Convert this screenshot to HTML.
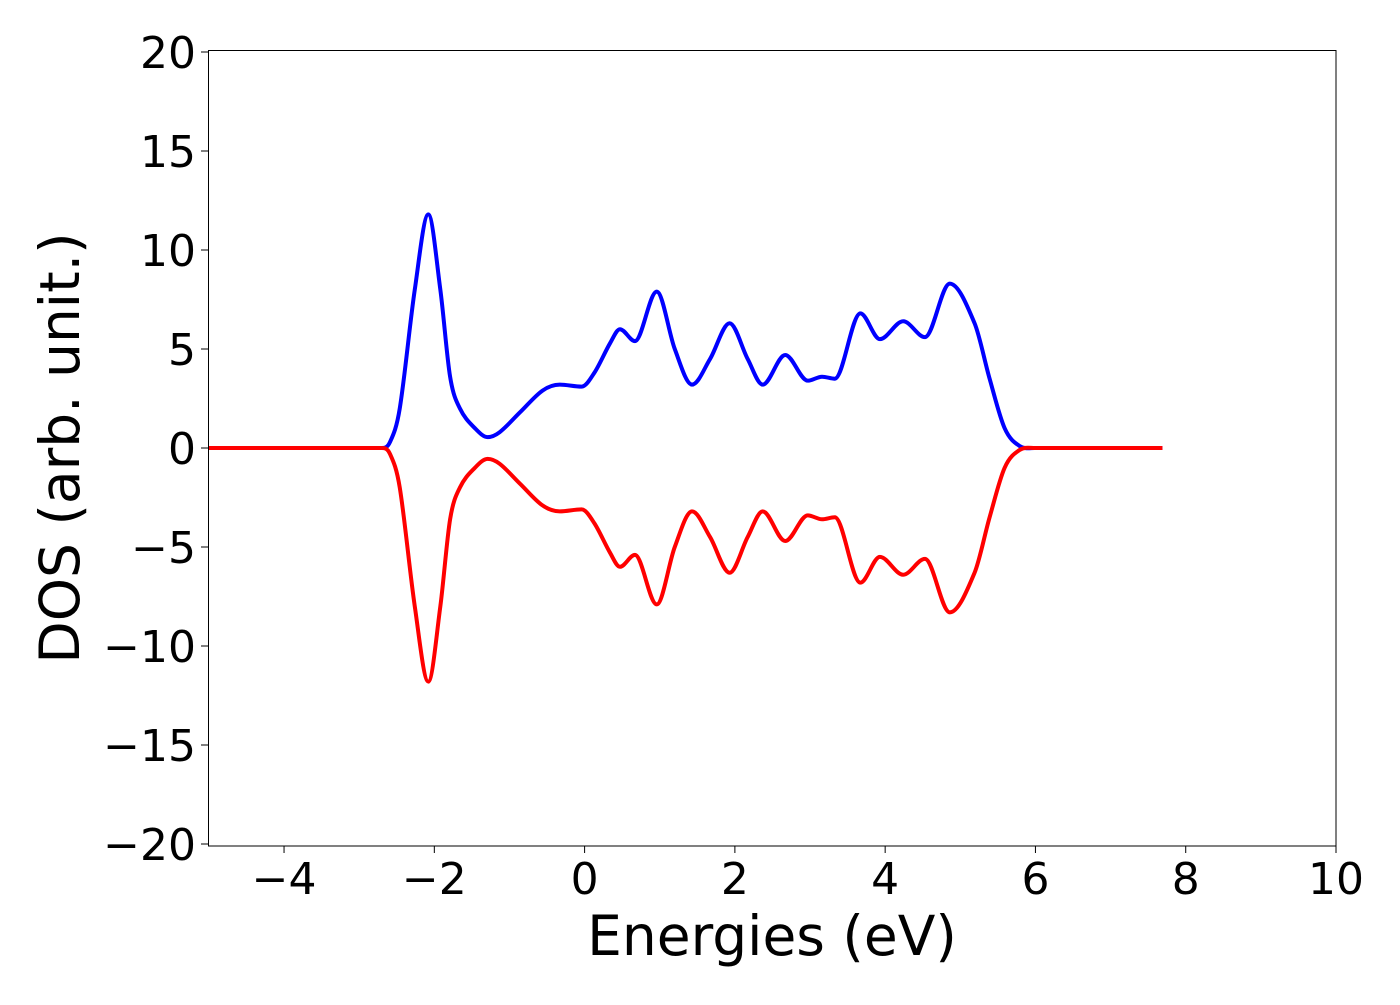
<!DOCTYPE html>
<html><head><meta charset="utf-8"><style>
body{margin:0;background:#fff}
svg text{font-family:"DejaVu Sans","Liberation Sans",sans-serif;fill:#000}
</style></head><body>
<svg width="1400" height="1000">
<rect x="0" y="0" width="1400" height="1000" fill="#fff"/>
<g id="plot"></g>
<rect x="208.5" y="50.5" width="1127.5" height="795.5" fill="none" stroke="#000" stroke-width="1"/>
<g id="ticks"></g>
<text x="772" y="955" font-size="55" text-anchor="middle">Energies (eV)</text>
<text transform="translate(79,448) rotate(-90)" font-size="55" text-anchor="middle">DOS (arb. unit.)</text>
</svg>
<script>
const energies=[-5,-2.7,-2.59,-2.46,-2.26,-2.08,-1.92,-1.79,-1.66,-1.46,-1.29,-1.13,-0.86,-0.56,-0.33,-0.04,0.13,0.34,0.47,0.67,0.96,1.2,1.43,1.67,1.93,2.17,2.37,2.67,2.97,3.16,3.33,3.67,3.93,4.24,4.53,4.86,5.19,5.39,5.59,5.79,5.99,7.69];
const dosUp=[0,0,0.3,2,8,11.8,8,3.6,2.0,1.0,0.55,0.8,1.8,2.9,3.2,3.1,3.8,5.3,6.0,5.4,7.9,5,3.2,4.5,6.3,4.5,3.2,4.7,3.4,3.6,3.5,6.8,5.5,6.4,5.6,8.3,6.3,3.5,1,0.1,0,0];
const dosDown=dosUp.map(v=>-v);
const xTicks=[-4,-2,0,2,4,6,8,10];
const yTicks=[-20,-15,-10,-5,0,5,10,15,20];
const X=e=>208.9+(e+5)*75.14;
const Y=v=>448-v*19.8;
const NS="http://www.w3.org/2000/svg";
function pathFor(xs,ys){
  const n=xs.length;
  const m=xs.map((x,i)=>{
    if(i===0||i===n-1) return 0;
    const s1=(ys[i]-ys[i-1])/(xs[i]-xs[i-1]), s2=(ys[i+1]-ys[i])/(xs[i+1]-xs[i]);
    if(s1*s2<=0) return 0;
    return (ys[i+1]-ys[i-1])/(xs[i+1]-xs[i-1]);
  });
  let d="M"+X(xs[0])+","+Y(ys[0]);
  for(let i=0;i<n-1;i++){
    const h=(xs[i+1]-xs[i])/3;
    d+=" C"+X(xs[i]+h)+","+Y(ys[i]+m[i]*h)+" "+X(xs[i+1]-h)+","+Y(ys[i+1]-m[i+1]*h)+" "+X(xs[i+1])+","+Y(ys[i+1]);
  }
  return d;
}
const plot=document.getElementById('plot');
[[dosUp,'#0000ff','spin-up-line'],[dosDown,'#ff0000','spin-down-line']].forEach(([ys,c,n])=>{
  const el=document.createElementNS(NS,'path');
  el.setAttribute('d',pathFor(energies,ys));
  el.setAttribute('fill','none');el.setAttribute('stroke',c);el.setAttribute('stroke-width','4');
  
  
  plot.appendChild(el);
});
const tg=document.getElementById('ticks');
xTicks.forEach(t=>{
  const l=document.createElementNS(NS,'line');
  l.setAttribute('x1',X(t));l.setAttribute('x2',X(t));l.setAttribute('y1',846);l.setAttribute('y2',853);l.setAttribute('stroke','#000');
  
  
  tg.appendChild(l);
  const tx=document.createElementNS(NS,'text');
  tx.setAttribute('x',X(t));tx.setAttribute('y',894);tx.setAttribute('font-size','44');tx.setAttribute('text-anchor','middle');
  tx.textContent=(t<0?'\u2212':'')+Math.abs(t);
  
  
  tg.appendChild(tx);
});
yTicks.forEach(t=>{
  const l=document.createElementNS(NS,'line');
  l.setAttribute('x1',201);l.setAttribute('x2',208);l.setAttribute('y1',Y(t));l.setAttribute('y2',Y(t));l.setAttribute('stroke','#000');
  
  
  tg.appendChild(l);
  const tx=document.createElementNS(NS,'text');
  tx.setAttribute('x',196);tx.setAttribute('y',Y(t)+16);tx.setAttribute('font-size','44');tx.setAttribute('text-anchor','end');
  tx.textContent=(t<0?'\u2212':'')+Math.abs(t);
  
  
  tg.appendChild(tx);
});
</script>
</body></html>
